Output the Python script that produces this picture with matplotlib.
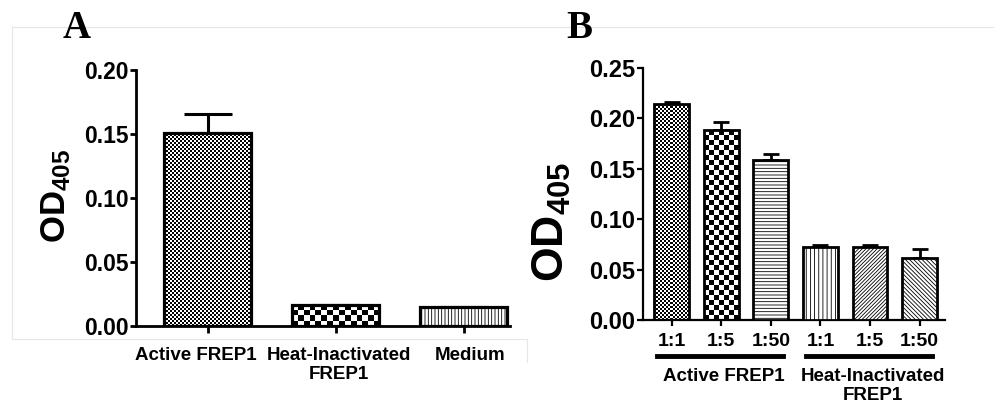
import numpy as np
import matplotlib
matplotlib.use('Agg')
import matplotlib.pyplot as plt
from matplotlib.ticker import FormatStrFormatter
from matplotlib.lines import Line2D
from matplotlib.transforms import ScaledTranslation

plt.rcParams['font.family'] = 'Liberation Sans'
plt.rcParams['font.weight'] = 'bold'
plt.rcParams['mathtext.fontset'] = 'custom'
plt.rcParams['mathtext.bf'] = 'Liberation Sans:bold'
plt.rcParams['mathtext.rm'] = 'Liberation Sans:bold'
plt.rcParams['hatch.linewidth'] = 0.6

# Panel A data
a_labels = ['Active FREP1', 'Heat-Inactivated\nFREP1', 'Medium']
a_values = [0.151, 0.0165, 0.0145]
a_errors = [0.0145, 0.0, 0.0]
a_fills = [('checker', 2), ('checker', 6), ('hatch', '|||||')]

# Panel B data
b_labels = ['1:1', '1:5', '1:50', '1:1', '1:5', '1:50']
b_values = [0.214, 0.188, 0.159, 0.0725, 0.072, 0.062]
b_errors = [0.002, 0.008, 0.006, 0.002, 0.0025, 0.0085]
b_fills = [('checker', 2), ('checker', 5), ('hatch', '-----'),
           ('hatch', '||||'), ('hatch', '/' * 9), ('hatch', '\\' * 8)]
b_groups = ['Active FREP1', 'Heat-Inactivated\nFREP1']

fig = plt.figure(figsize=(9.94, 4.04), dpi=100)


def fill_bars(ax, bars, fills):
    for patch, (kind, arg) in zip(bars, fills):
        if kind == 'hatch':
            patch.set_hatch(arg)
            continue
        patch.set_facecolor('none')
        x0, w, h = patch.get_x(), patch.get_width(), patch.get_height()
        p0 = ax.transData.transform((x0, 0))
        p1 = ax.transData.transform((x0 + w, h))
        nx = max(1, int(round((p1[0] - p0[0]) / arg)))
        ny = max(1, int(round((p1[1] - p0[1]) / arg)))
        board = np.add.outer(np.arange(ny), np.arange(nx)) % 2
        im = ax.imshow(board, extent=[x0, x0 + w, 0, h], cmap='gray', vmin=0, vmax=1,
                       interpolation='nearest', aspect='auto', origin='lower', zorder=2)
        im.set_clip_path(patch)


def style_axis(ax, lw, fs):
    for s in ['top', 'right']:
        ax.spines[s].set_visible(False)
    for s in ['left', 'bottom']:
        ax.spines[s].set_linewidth(lw)
    ax.tick_params(width=lw, length=4.5, labelsize=fs, pad=1)
    ax.yaxis.set_major_formatter(FormatStrFormatter('%.2f'))


# ---------- Panel A ----------
axA = fig.add_axes([0.1368, 0.1931, 0.3763, 0.6337])
xa = np.arange(len(a_values))
axA.set_xlim(-0.5625, 2.36)
axA.set_ylim(0, 0.20)
axA.errorbar(xa, a_values, yerr=[np.zeros(3), a_errors], fmt='none', ecolor='k',
             elinewidth=2.2, capsize=17, capthick=2.2, zorder=1)
barsA = axA.bar(xa, a_values, width=0.68, color='white', edgecolor='black',
                linewidth=2.3, zorder=3)
fill_bars(axA, barsA, a_fills)
axA.set_xlim(-0.5625, 2.36)
axA.set_ylim(0, 0.20)
axA.set_yticks([0, 0.05, 0.10, 0.15, 0.20])
axA.set_xticks(xa)
style_axis(axA, 2.0, 16.5)
axA.set_xticklabels(a_labels, fontsize=13.5, linespacing=1.2)
axA.tick_params(axis='x', pad=10, length=5)
for lab, dx in zip(axA.get_xticklabels(), [-0.12, 0.03, 0.06]):
    lab.set_transform(lab.get_transform() + ScaledTranslation(dx, 0, fig.dpi_scale_trans))
fig.text(0.056, 1 - 196 / 404, r'$\mathbf{OD_{405}}$', rotation=90, fontsize=25,
         ha='center', va='center')
fig.text(77 / 994, 1 - 28 / 404, 'A', family='Liberation Serif', fontweight='bold',
         fontsize=28, ha='center', va='center')

# ---------- Panel B ----------
axB = fig.add_axes([0.6469, 0.2079, 0.3038, 0.6238])
xb = np.arange(len(b_values))
axB.set_xlim(-0.575, 5.51)
axB.set_ylim(0, 0.25)
axB.errorbar(xb, b_values, yerr=[np.zeros(6), b_errors], fmt='none', ecolor='k',
             elinewidth=2.0, capsize=6, capthick=2.0, zorder=1)
barsB = axB.bar(xb, b_values, width=0.70, color='white', edgecolor='black',
                linewidth=2.0, zorder=3)
fill_bars(axB, barsB, b_fills)
axB.set_xlim(-0.575, 5.51)
axB.set_ylim(0, 0.25)
axB.set_yticks([0, 0.05, 0.10, 0.15, 0.20, 0.25])
axB.set_xticks(xb)
style_axis(axB, 1.6, 17)
axB.set_xticklabels(b_labels, fontsize=14)
axB.tick_params(axis='x', pad=5, length=4)

trans = axB.get_xaxis_transform()
for start, label in zip([0, 3], b_groups):
    axB.add_line(Line2D([start - 0.29, start + 2.25], [-0.143, -0.143], transform=trans,
                        color='black', linewidth=3.5, clip_on=False))
    axB.text(start + 1.05, -0.19, label, transform=trans, ha='center', va='top',
             fontsize=13.5, linespacing=1.2)

fig.text(552 / 994, 1 - 222 / 404, r'$\mathbf{OD_{405}}$', rotation=90, fontsize=32,
         ha='center', va='center')
fig.text(579 / 994, 1 - 28 / 404, 'B', family='Liberation Serif', fontweight='bold',
         fontsize=28, ha='center', va='center')

# faint panel frame lines
grey = '#e6e6e6'
fig.add_artist(Line2D([12 / 994, 1], [1 - 27 / 404] * 2, color=grey, lw=0.8))
fig.add_artist(Line2D([12 / 994] * 2, [1 - 27 / 404, 1 - 339 / 404], color=grey, lw=0.8))
fig.add_artist(Line2D([12 / 994, 527 / 994], [1 - 339 / 404] * 2, color=grey, lw=0.8))
fig.add_artist(Line2D([527 / 994] * 2, [1 - 339 / 404, 1 - 362 / 404], color=grey, lw=0.8))

fig.savefig('out.png', dpi=100)
